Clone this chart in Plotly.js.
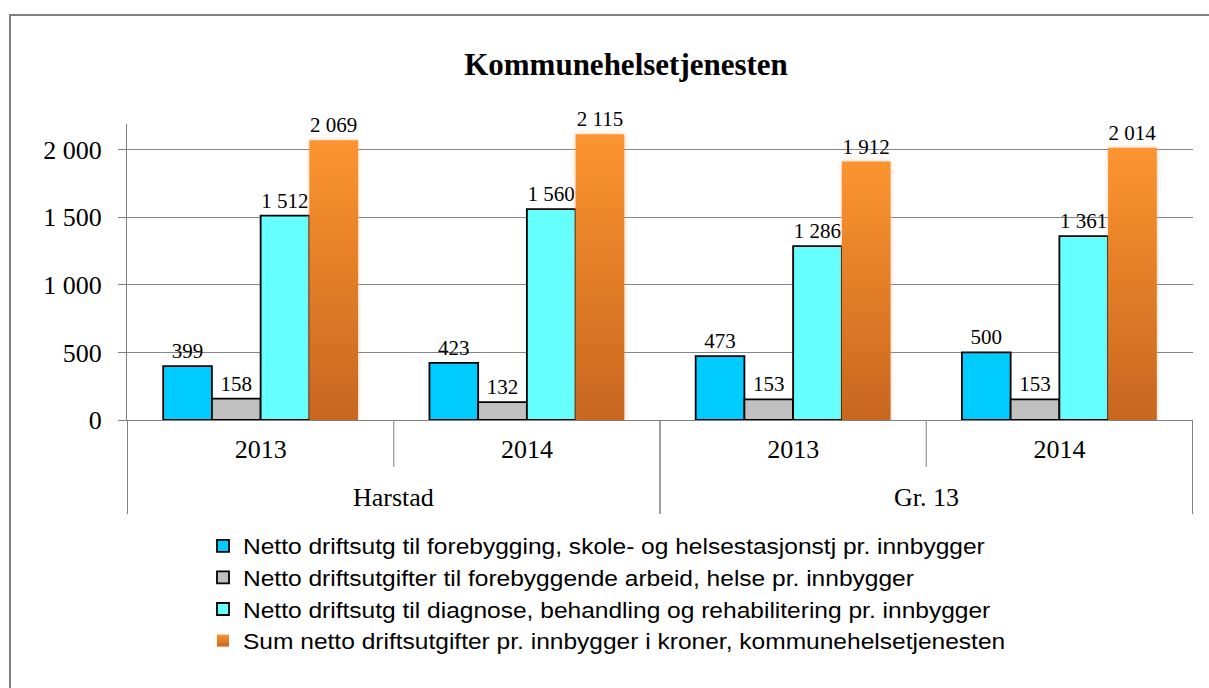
<!DOCTYPE html>
<html>
<head>
<meta charset="utf-8">
<script src="https://cdn.plot.ly/plotly-3.0.1.min.js"></script>
<style>
html,body{margin:0;padding:0;background:#ffffff;}
#chart{width:1209px;height:688px;}
</style>
</head>
<body>
<div id="chart"></div>
<script>
// ---- data ----
const chartTitle = 'Kommunehelsetjenesten';
const groups = ['Harstad', 'Harstad', 'Gr. 13', 'Gr. 13'];
const years = ['2013', '2014', '2013', '2014'];
const seriesNames = [
  'Netto driftsutg til forebygging, skole- og helsestasjonstj pr. innbygger',
  'Netto driftsutgifter til forebyggende arbeid, helse pr. innbygger',
  'Netto driftsutg til diagnose, behandling og rehabilitering pr. innbygger',
  'Sum netto driftsutgifter pr. innbygger i kroner, kommunehelsetjenesten'
];
const forebyggingSkole = [399, 423, 473, 500];
const forebyggendeHelse = [158, 132, 153, 153];
const diagnoseBehandling = [1512, 1560, 1286, 1361];
const sumKommunehelse = [2069, 2115, 1912, 2014];
const yTickVals = [0, 500, 1000, 1500, 2000];

// ---- helpers ----
function fmt(v) { return String(v).replace(/\B(?=(\d{3})+(?!\d))/g, ' '); }
const xcats = groups.map((g, i) => g + ' ' + years[i]);
const serifFont = '"Liberation Serif", "Times New Roman", Times, serif';
const sansFont = '"Liberation Sans", Arial, Helvetica, sans-serif';

const seriesValues = [forebyggingSkole, forebyggendeHelse, diagnoseBehandling, sumKommunehelse];
const seriesColors = ['#00CCFF', '#C0C0C0', '#66FFFF', '#E37F26'];
const seriesLine = [1.8, 1.8, 1.8, 0];

const traces = seriesValues.map((vals, k) => ({
  type: 'bar',
  name: seriesNames[k],
  x: xcats,
  y: vals,
  text: vals.map(fmt),
  textposition: 'outside',
  constraintext: 'none',
  cliponaxis: false,
  textfont: {family: serifFont, size: 21, color: '#000000'},
  marker: {color: seriesColors[k], line: {color: '#000000', width: seriesLine[k]}},
  hoverinfo: 'none'
}));

// group separators and labels
const shapes = [];
const annotations = [];
const plotBottom = 420, plotHeight = 296;
const innerDrop = -(467 - plotBottom) / plotHeight;
const outerDrop = -(514 - plotBottom) / plotHeight;
const groupNames = [...new Set(groups)];
groupNames.forEach(g => {
  const idx = groups.map((v, i) => v === g ? i : -1).filter(i => i >= 0);
  const first = idx[0], last = idx[idx.length - 1];
  annotations.push({
    xref: 'x', yref: 'paper', x: (first + last) / 2, y: -(497 - plotBottom) / plotHeight,
    text: g, showarrow: false, xanchor: 'center', yanchor: 'middle',
    font: {family: serifFont, size: 26, color: '#000000'}
  });
  for (let i = first; i < last; i++) {
    shapes.push({type: 'line', xref: 'x', yref: 'paper', x0: i + 0.5, x1: i + 0.5, y0: 0, y1: innerDrop,
      line: {color: '#808080', width: 1}});
  }
  shapes.push({type: 'line', xref: 'x', yref: 'paper', x0: first - 0.5, x1: first - 0.5, y0: 0, y1: outerDrop,
    line: {color: '#808080', width: 1}});
  shapes.push({type: 'line', xref: 'x', yref: 'paper', x0: last + 0.5, x1: last + 0.5, y0: 0, y1: outerDrop,
    line: {color: '#808080', width: 1}});
});
// outer chart border
shapes.push({type: 'rect', xref: 'paper', yref: 'paper',
  x0: (10 - 127) / 1066, x1: (1230 - 127) / 1066,
  y0: (plotBottom - 15) / plotHeight, y1: (plotBottom - 710) / plotHeight,
  line: {color: '#808080', width: 2}, fillcolor: 'rgba(0,0,0,0)', layer: 'below'});

const layout = {
  width: 1209, height: 688,
  margin: {l: 127, r: 16, t: 124, b: 268, pad: 0},
  paper_bgcolor: '#ffffff', plot_bgcolor: '#ffffff',
  title: {text: '<b>' + chartTitle + '</b>', font: {family: serifFont, size: 31, color: '#000000'},
    xref: 'paper', x: (626 - 127) / 1066, xanchor: 'center', yref: 'container', y: 1 - 64 / 688, yanchor: 'middle'},
  barmode: 'group', bargap: 0.268, bargroupgap: 0,
  showlegend: true,
  legend: {x: (203 - 127) / 1066, xanchor: 'left', y: -(525 - plotBottom) / plotHeight, yanchor: 'top',
    orientation: 'v', traceorder: 'normal', bgcolor: 'rgba(0,0,0,0)',
    font: {family: sansFont, size: 22, color: '#000000'}},
  xaxis: {type: 'category', categoryorder: 'array', categoryarray: xcats,
    tickvals: xcats, ticktext: years, ticks: '', ticklabelstandoff: 6,
    tickfont: {family: serifFont, size: 26, color: '#000000'},
    showline: true, linecolor: '#808080', linewidth: 1, showgrid: false, zeroline: false, fixedrange: true},
  yaxis: {range: [0, 2190], tickvals: yTickVals, ticktext: yTickVals.map(fmt),
    ticks: 'outside', ticklen: 8, tickcolor: '#808080', tickwidth: 1, ticklabelstandoff: 11,
    tickfont: {family: serifFont, size: 26, color: '#000000'},
    showline: true, linecolor: '#808080', linewidth: 1,
    showgrid: true, gridcolor: '#868686', gridwidth: 1, zeroline: false, fixedrange: true},
  shapes: shapes,
  annotations: annotations
};

Plotly.newPlot('chart', traces, layout, {displayModeBar: false, staticPlot: true}).then(gd => {
  const NS = 'http://www.w3.org/2000/svg';
  const defs = gd.querySelector('.main-svg defs');
  if (!defs) return;
  const grad = document.createElementNS(NS, 'linearGradient');
  grad.setAttribute('id', 'orangeGrad');
  grad.setAttribute('x1', '0'); grad.setAttribute('y1', '0');
  grad.setAttribute('x2', '0'); grad.setAttribute('y2', '1');
  [['0%', '#FC9430'], ['100%', '#C8661F']].forEach(([o, c]) => {
    const s = document.createElementNS(NS, 'stop');
    s.setAttribute('offset', o); s.setAttribute('stop-color', c);
    grad.appendChild(s);
  });
  defs.appendChild(grad);
  const filt = document.createElementNS(NS, 'filter');
  filt.setAttribute('id', 'orangeGlow');
  filt.setAttribute('x', '-20%'); filt.setAttribute('y', '-5%');
  filt.setAttribute('width', '140%'); filt.setAttribute('height', '110%');
  const ds = document.createElementNS(NS, 'feDropShadow');
  ds.setAttribute('dx', '0'); ds.setAttribute('dy', '0'); ds.setAttribute('stdDeviation', '2');
  ds.setAttribute('flood-color', '#F4A060'); ds.setAttribute('flood-opacity', '0.55');
  filt.appendChild(ds);
  defs.appendChild(filt);
  const barTraces = gd.querySelectorAll('.barlayer .trace');
  if (barTraces[3]) barTraces[3].querySelectorAll('path').forEach(p => {
    p.style.fill = 'url(#orangeGrad)';
    p.setAttribute('filter', 'url(#orangeGlow)');
  });
  const legTraces = gd.querySelectorAll('.legend .traces');
  if (legTraces[3]) legTraces[3].querySelectorAll('.legendpoints path').forEach(p => { p.style.fill = 'url(#orangeGrad)'; });
  gd.querySelectorAll('.legend [clip-path]').forEach(e => e.removeAttribute('clip-path'));
  gd.querySelectorAll('.legend text.legendtext').forEach(t => {
    const len = t.getComputedTextLength();
    if (len > 0) {
      t.setAttribute('textLength', String(len * 1.115));
      t.setAttribute('lengthAdjust', 'spacingAndGlyphs');
    }
  });
});
</script>
</body>
</html>
